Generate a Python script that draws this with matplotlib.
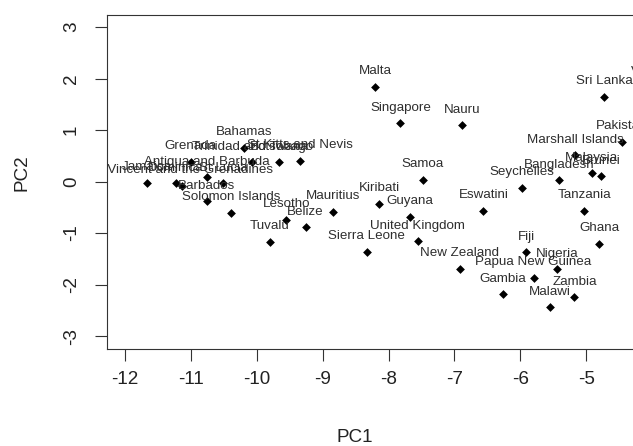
import matplotlib
matplotlib.use("Agg")
import matplotlib.pyplot as plt

# Principal component scores per country
countries = [
    "Jamaica", "Dominica", "St Vincent and the Grenadines", "Grenada",
    "Antigua and Barbuda", "St Lucia", "Barbados", "Solomon Islands",
    "Bahamas", "Trinidad and Tobago", "Botswana", "St Kitts and Nevis",
    "Lesotho", "Belize", "Tuvalu", "Mauritius", "Malta", "Singapore",
    "Nauru", "Samoa", "Kiribati", "Guyana", "Eswatini", "United Kingdom",
    "Sierra Leone", "New Zealand", "Gambia", "Fiji", "Sri Lanka", "Pakistan",
    "Marshall Islands", "Malaysia", "Brunei", "Bangladesh", "Seychelles",
    "Tanzania", "Ghana", "Nigeria", "Papua New Guinea", "Zambia", "Malawi",
    "Vanuatu",
]
pc1 = [
    -11.67, -11.23, -11.14, -11.00,
    -10.76, -10.51, -10.76, -10.39,
    -10.19, -10.07, -9.66, -9.34,
    -9.55, -9.26, -9.80, -8.85, -8.20, -7.82,
    -6.89, -7.48, -8.14, -7.68, -6.56, -7.56,
    -8.33, -6.92, -6.27, -5.91, -4.73, -4.46,
    -5.17, -4.92, -4.78, -5.41, -5.97,
    -5.03, -4.80, -5.44, -5.80, -5.18, -5.55,
    -3.95,
]
pc2 = [
    -0.02, -0.03, -0.08, 0.38,
    0.08, -0.03, -0.38, -0.61,
    0.66, 0.37, 0.37, 0.40,
    -0.74, -0.89, -1.17, -0.59, 1.84, 1.13,
    1.09, 0.03, -0.43, -0.69, -0.57, -1.16,
    -1.36, -1.69, -2.19, -1.37, 1.64, 0.77,
    0.51, 0.16, 0.10, 0.02, -0.12,
    -0.57, -1.21, -1.70, -1.87, -2.25, -2.44,
    1.83,
]
xticks = [-12, -11, -10, -9, -8, -7, -6, -5]
yticks = [-3, -2, -1, 0, 1, 2, 3]

W, H = 633, 446
fig = plt.figure(figsize=(W / 100, H / 100), dpi=100)

# plot region in pixels (extends past the right edge of the canvas)
left_px, right_px, top_px, bottom_px = 107, 685, 15, 349
ax = fig.add_axes([left_px / W, 1 - bottom_px / H,
                   (right_px - left_px) / W, (bottom_px - top_px) / H])
ax.set_xlim(-12.273, -3.502)
ax.set_ylim(-3.252, 3.233)

ax.scatter(pc1, pc2, marker="D", s=20, color="black", linewidths=0, zorder=3)

for name, x, y in zip(countries, pc1, pc2):
    ax.annotate(name, (x, y), xytext=(0, 11.2), textcoords="offset points",
                ha="center", va="center", fontsize=9.6,
                family="Liberation Sans", color="#2e2e2e",
                annotation_clip=False, clip_on=True)

ax.set_xticks(xticks)
ax.set_yticks(yticks)
ax.set_xticklabels([str(v) for v in xticks])
ax.set_yticklabels([str(v) for v in yticks])
for lab in ax.get_xticklabels() + ax.get_yticklabels():
    lab.set_family("Liberation Sans")
    lab.set_fontsize(13.6)
    lab.set_color("#222222")
ax.tick_params(axis="both", direction="out", length=8.6, width=0.8,
               color="#333333")
ax.tick_params(axis="x", pad=7)
ax.tick_params(axis="y", pad=11, labelrotation=90)
for lab in ax.get_yticklabels():
    lab.set_va("center")

for side in ("left", "bottom", "top", "right"):
    ax.spines[side].set_linewidth(0.8)
    ax.spines[side].set_color("#333333")

ax.set_xlabel("PC1", family="Liberation Sans", fontsize=13.6, color="#222222")
ax.set_ylabel("PC2", family="Liberation Sans", fontsize=13.6, color="#222222")
# axis titles placed in pixel coordinates of the figure
ax.xaxis.set_label_coords(355 / W, 1 - 437 / H, transform=fig.transFigure)
ax.yaxis.set_label_coords(22 / W, 1 - 173 / H, transform=fig.transFigure)
ax.xaxis.label.set_va("center")
ax.yaxis.label.set_va("center")

fig.savefig("out.png", dpi=100)
